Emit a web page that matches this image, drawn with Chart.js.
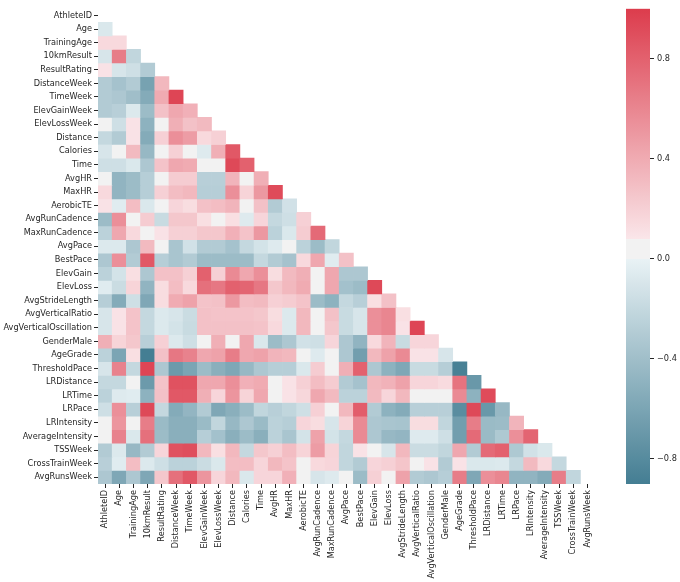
<!DOCTYPE html>
<html>
<head>
<meta charset="utf-8">
<script src="https://cdn.jsdelivr.net/npm/chart.js@4"></script>
<style>
    body { margin: 0; background: #fff; }
    #heatmap { position: absolute; left: 0; top: 0; }
    #colorbar { position: absolute; left: 600px; top: 0; }
</style>
</head>
<body>
<canvas id="heatmap" width="680" height="582"></canvas>
<canvas id="colorbar" width="80" height="582"></canvas>
<script>
const fieldNames = ["AthleteID", "Age", "TrainingAge", "10kmResult", "ResultRating", "DistanceWeek", "TimeWeek",
    "ElevGainWeek", "ElevLossWeek", "Distance", "Calories", "Time", "AvgHR", "MaxHR", "AerobicTE", "AvgRunCadence",
    "MaxRunCadence", "AvgPace", "BestPace", "ElevGain", "ElevLoss", "AvgStrideLength", "AvgVerticalRatio",
    "AvgVerticalOscillation", "GenderMale", "AgeGrade", "ThresholdPace", "LRDistance", "LRTime", "LRPace",
    "LRIntensity", "AverageIntensity", "TSSWeek", "CrossTrainWeek", "AvgRunsWeek"];

// lower triangle of the correlation matrix, one list per row (row n has n cells)
const correlationRows = [
    [],
    [-.08],
    [.15, .15],
    [-.1, .65, -.22],
    [.1, -.1, -.15, -.3],
    [-.3, -.37, -.3, -.62, .33],
    [-.3, -.33, -.4, -.55, .4, .95],
    [-.3, -.27, -.07, -.42, .28, .42, .37],
    [.03, -.15, .1, -.5, .03, .38, .28, .32],
    [-.2, -.3, .1, -.55, .2, .55, .48, .15, .2],
    [-.1, .03, .32, -.45, .03, .2, .03, -.06, .38, .85],
    [-.15, -.15, -.08, -.33, .27, .42, .4, .03, .03, .93, .8],
    [.03, -.48, -.42, -.28, .03, .22, .22, -.27, -.27, .35, .03, .38],
    [.15, -.48, -.42, -.28, .2, .3, .33, -.28, -.28, .55, .18, .5, .92],
    [.1, -.05, .3, -.08, .03, .17, .13, .28, .3, .35, .03, .28, -.3, -.13],
    [-.42, .55, .03, .22, -.18, .25, .25, .12, .03, .12, -.06, .17, -.2, -.15, .2],
    [-.25, .42, .15, .03, .1, .2, .2, .25, .25, .37, .27, .5, -.25, -.08, .22, .75],
    [-.07, -.07, -.33, .32, .03, -.35, -.13, -.3, -.3, -.37, -.2, -.12, -.06, .03, -.25, -.42, -.22],
    [-.33, .55, -.3, .85, -.28, -.35, -.3, -.42, -.42, -.42, -.42, -.2, -.3, -.37, .15, .42, -.05, .28],
    [-.25, -.12, .12, -.33, .28, .28, .2, .8, .2, .58, .42, .55, .13, .32, .38, .03, .42, -.33, -.33],
    [-.05, -.17, .18, -.48, .13, .3, .15, .72, .68, .8, .78, .68, .25, .33, .4, .03, .42, -.38, -.42, .93],
    [-.28, -.55, -.15, -.58, .13, .4, .45, .27, .28, .5, .3, .32, .2, .22, .27, -.42, -.5, -.2, -.27, .12, .28],
    [-.1, .1, .27, -.2, -.07, -.1, -.17, .28, .27, .27, .27, .25, .13, -.07, .33, .03, .28, -.18, -.1, .55, .6, .12],
    [-.1, .1, .27, -.2, -.07, -.12, -.18, .28, .28, .28, .28, .27, .15, -.07, .33, .03, .25, -.18, -.1, .55, .6, .1, .95],
    [.38, .18, .25, -.27, .2, -.07, -.15, .03, .38, .03, .42, -.08, -.42, -.33, -.13, -.15, .17, -.33, -.48, .15, .35, -.18, .17, .17],
    [-.25, -.6, .12, -.9, .28, .68, .62, .42, .45, .65, .42, .45, .35, .33, .03, -.06, .03, -.33, -.65, .33, .45, .58, .1, .1, -.1],
    [-.1, .62, -.2, .95, -.33, -.68, -.6, -.42, -.52, -.58, -.45, -.33, -.28, -.28, -.08, .22, .03, .38, .8, -.33, -.5, -.58, -.18, -.18, -.28, -.88],
    [-.2, -.2, .03, -.68, .27, .88, .88, .42, .42, .55, .37, .4, .03, .1, .2, .3, .22, -.3, -.37, .33, .36, .45, .17, .17, .14, .7, -.7],
    [-.25, -.06, -.05, -.5, .28, .85, .85, .38, .17, .52, .18, .42, .03, .1, .16, .42, .32, -.25, -.25, .32, .17, .33, .03, .03, .03, .58, -.5, .92],
    [-.15, .55, -.27, .93, -.2, -.55, -.47, -.3, -.58, -.52, -.42, -.22, -.27, -.22, -.15, .2, .03, .33, .82, -.3, -.5, -.55, -.27, -.27, -.27, -.78, .93, -.7, -.45],
    [.03, .52, .03, .65, -.43, -.52, -.52, -.43, -.22, -.45, -.33, -.43, -.25, -.28, .17, .13, -.1, .18, .58, -.33, -.35, -.36, .13, .13, -.22, -.65, .65, -.43, -.42, .35],
    [.03, .62, -.08, .72, -.42, -.52, -.52, -.28, -.38, -.52, -.42, -.52, -.25, -.35, -.12, .45, -.12, -.2, .58, -.33, -.45, -.47, -.06, -.06, -.15, -.65, .75, -.43, -.32, .55, .78],
    [-.3, -.07, -.45, -.3, .17, .88, .9, .33, .12, .33, -.2, .25, .2, .3, .18, .48, .18, -.22, .1, .03, -.1, .33, -.17, -.17, -.22, .42, -.3, .75, .8, -.32, -.13, -.08],
    [-.27, -.05, .3, -.07, -.15, -.25, -.25, -.17, -.08, .3, .3, .17, .33, .27, .03, .15, .17, -.22, -.3, .17, .2, .26, .03, .1, -.3, .1, -.08, -.08, -.07, -.2, .32, .15, -.2],
    [-.33, -.58, -.33, -.58, .25, .72, .85, .52, .17, .33, -.08, .17, .17, .37, .03, -.1, -.06, .03, -.42, .2, .03, .45, -.3, -.33, -.28, .65, -.58, .55, .6, -.48, -.48, -.55, .65, -.22]
];

const colorbarTicks = [-0.8, -0.4, 0, 0.4, 0.8];
const colorbarRange = [-0.9, 1];

const textColor = "#262626";
const fontFamily = "'DejaVu Sans'";
const tickFont = { family: fontFamily, size: 8.2 };

// diverging palette: teal -> light grey band -> red
function mix(a, b, t) {
    return `rgb(${a.map((c, i) => Math.round(c + (b[i] - c) * t)).join(",")})`;
}

function cellColor(v) {
    if (v < 0) return mix([233, 242, 245], [68, 126, 147], Math.min(-v / 0.9, 1));
    if (v < 0.08) return "rgb(242,242,242)";
    return mix([250, 230, 233], [220, 60, 76], (v - 0.08) / 0.92);
}

// one floating bar per cell, one dataset per row
const rowDatasets = correlationRows.map((cells, row) => ({
    label: fieldNames[row],
    data: fieldNames.map((_, col) => (col < cells.length ? [row, row + 1] : null)),
    backgroundColor: fieldNames.map((_, col) => (col < cells.length ? cellColor(cells[col]) : "transparent")),
    borderWidth: 0
}));

new Chart(document.getElementById("heatmap"), {
    type: "bar",
    data: { labels: fieldNames, datasets: rowDatasets },
    options: {
        responsive: false,
        animation: false,
        events: [],
        layout: { padding: { top: 8.7, right: 85.4, left: 0, bottom: 0 } },
        plugins: { legend: { display: false }, tooltip: { enabled: false } },
        datasets: { bar: { barPercentage: 1, categoryPercentage: 1, grouped: false } },
        scales: {
            x: {
                grid: { offset: false, drawOnChartArea: false, tickLength: 4, tickColor: textColor },
                border: { display: false },
                ticks: { color: textColor, font: tickFont, maxRotation: 90, minRotation: 90, autoSkip: false, padding: 2 },
                afterFit: (axis) => { axis.height = 98; }
            },
            y: {
                reverse: true,
                min: 0,
                max: fieldNames.length,
                grid: { drawOnChartArea: false, tickLength: 4, tickColor: textColor },
                border: { display: false },
                afterBuildTicks: (axis) => { axis.ticks = fieldNames.map((_, i) => ({ value: i + 0.5 })); },
                ticks: {
                    color: textColor,
                    font: tickFont,
                    autoSkip: false,
                    padding: 2,
                    callback: (value) => fieldNames[value - 0.5]
                },
                afterFit: (axis) => { axis.width = 98; }
            }
        }
    }
});

// colorbar, with a gradient bar spanning the value range
function colorbarFill(context) {
    const area = context.chart.chartArea;
    if (!area) return "transparent";
    const gradient = context.chart.ctx.createLinearGradient(0, area.top, 0, area.bottom);
    const span = colorbarRange[1] - colorbarRange[0];
    const steps = 38;
    for (let i = 0; i <= steps; i++) {
        const v = colorbarRange[1] - span * i / steps;
        gradient.addColorStop(i / steps, cellColor(v));
    }
    gradient.addColorStop((colorbarRange[1] - 0.08) / span, cellColor(0.08));
    gradient.addColorStop((colorbarRange[1] - 0.0799) / span, cellColor(0.05));
    gradient.addColorStop((colorbarRange[1] - 0.0001) / span, cellColor(0.05));
    gradient.addColorStop(colorbarRange[1] / span, cellColor(-0.001));
    return gradient;
}

new Chart(document.getElementById("colorbar"), {
    type: "bar",
    data: {
        labels: ["scale"],
        datasets: [{ data: [colorbarRange], backgroundColor: colorbarFill, borderWidth: 0 }]
    },
    options: {
        responsive: false,
        animation: false,
        events: [],
        layout: { padding: { top: 8.7, bottom: 98, left: 26, right: 0 } },
        plugins: { legend: { display: false }, tooltip: { enabled: false } },
        datasets: { bar: { barPercentage: 1, categoryPercentage: 1 } },
        scales: {
            x: { display: false },
            y: {
                position: "right",
                min: colorbarRange[0],
                max: colorbarRange[1],
                grid: { drawOnChartArea: false, tickLength: 4, tickColor: textColor },
                border: { display: false },
                afterBuildTicks: (axis) => { axis.ticks = colorbarTicks.map((value) => ({ value })); },
                ticks: {
                    color: textColor,
                    font: tickFont,
                    padding: 3,
                    callback: (value) => (value < 0 ? "\u2212" + Math.abs(value).toFixed(1) : value.toFixed(1))
                },
                afterFit: (axis) => { axis.width = 30; }
            }
        }
    }
});
</script>
</body>
</html>
